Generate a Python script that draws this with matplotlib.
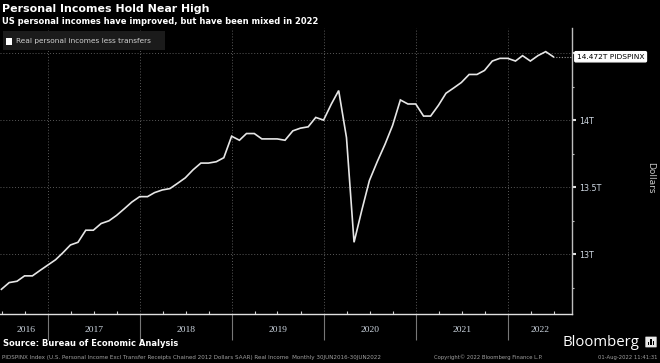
import matplotlib
matplotlib.use("Agg")
import matplotlib.pyplot as plt
import matplotlib.dates as mdates
import matplotlib.transforms as mtransforms
from matplotlib.patches import Rectangle, FancyBboxPatch
import pandas as pd
import numpy as np

# ---------------- data ----------------
start_month = "2016-06-30"
values = [
    # 2016 Jun-Dec
    12.74, 12.79, 12.80, 12.84, 12.84, 12.88, 12.92,
    # 2017
    12.96, 13.01, 13.07, 13.09, 13.18, 13.18, 13.23, 13.25, 13.29, 13.34, 13.39, 13.43,
    # 2018
    13.43, 13.46, 13.48, 13.49, 13.53, 13.57, 13.63, 13.68, 13.68, 13.69, 13.72, 13.88,
    # 2019
    13.85, 13.90, 13.90, 13.86, 13.86, 13.86, 13.85, 13.92, 13.94, 13.95, 14.02, 14.00,
    # 2020
    14.12, 14.22, 13.87, 13.09, 13.33, 13.55, 13.69, 13.82, 13.96, 14.15, 14.12, 14.12,
    # 2021
    14.03, 14.03, 14.11, 14.20, 14.24, 14.28, 14.34, 14.34, 14.37, 14.44, 14.46, 14.46,
    # 2022 Jan-Jun
    14.44, 14.48, 14.44, 14.48, 14.51, 14.472,
]
dates = pd.date_range(start_month, periods=len(values), freq="ME")
years = [2016, 2017, 2018, 2019, 2020, 2021, 2022]
ytick_vals = [13.0, 13.5, 14.0, 14.5]
ytick_labels = ["13T", "13.5T", "14T", ""]
last_label = "14.472T PIDSPINX"
legend_label = "Real personal incomes less transfers"
title = "Personal Incomes Hold Near High"
subtitle = "US personal incomes have improved, but have been mixed in 2022"
source = "Source: Bureau of Economic Analysis"
footer_left = ("PIDSPINX Index (U.S. Personal Income Excl Transfer Receipts Chained 2012 "
               "Dollars SAAR) Real Income  Monthly 30JUN2016-30JUN2022")
footer_mid = "Copyright\u00a9 2022 Bloomberg Finance L.P."
footer_right = "01-Aug-2022 11:41:31"

# ---------------- figure ----------------
W, H = 660, 363
fig = plt.figure(figsize=(W / 100, H / 100), dpi=100, facecolor="black")

def fx(px):
    return px / W

def fy(py):
    return 1 - py / H

ax_left, ax_right, ax_top, ax_bottom = 0, 572, 28, 314
ax = fig.add_axes([fx(ax_left), fy(ax_bottom), fx(ax_right - ax_left), (ax_bottom - ax_top) / H])
ax.set_facecolor("black")

ax.plot(dates, values, color="#e6e6e6", lw=1.2, solid_joinstyle="miter", zorder=3)

# x limits: 2017-01-01 at px 48, 92 px per year
d0 = mdates.date2num(pd.Timestamp("2017-01-01"))
ppd = 92 / 365.25
ax.set_xlim(d0 - (48 - ax_left) / ppd, d0 + (ax_right - 48) / ppd)
ax.set_ylim(12.556, 14.686)

# spines
for s in ["top", "left"]:
    ax.spines[s].set_visible(False)
ax.spines["right"].set_color("#bdbdbd")
ax.spines["right"].set_linewidth(1.0)
ax.spines["bottom"].set_color("#e0e0e0")
ax.spines["bottom"].set_linewidth(1.0)

# y axis on right
ax.yaxis.tick_right()
ax.set_yticks(ytick_vals)
ax.set_yticklabels(ytick_labels)
ax.set_yticks([12.75, 13.25, 13.75, 14.25], minor=True)
ax.tick_params(axis="y", which="major", colors="#e0e0e0", labelcolor="#cfd8e3",
               length=3, width=1.5, direction="out", labelsize=5.8, pad=2)
ax.tick_params(axis="y", which="minor", colors="#bdbdbd", length=1.5, width=0.8,
               direction="out")

# x axis ticks: year separators extend downward, quarterly minor ticks point up
year_starts = [pd.Timestamp(f"{y}-01-01") for y in years[1:]]
ax.set_xticks(year_starts)
ax.set_xticklabels([])
ax.xaxis.set_minor_locator(mdates.MonthLocator(bymonth=[4, 7, 10]))
ax.tick_params(axis="x", which="major", colors="#777777", length=19, width=0.8,
               direction="out")
ax.tick_params(axis="x", which="minor", colors="#d0d0d0", length=2.2, width=0.8,
               direction="in")

# grid
ax.grid(True, which="major", color="#5a5a5a", linestyle=(0, (1, 2)), lw=0.7)

# year labels
trans = mtransforms.blended_transform_factory(ax.transData, fig.transFigure)
xmin, xmax = ax.get_xlim()
for y in years:
    a = max(mdates.date2num(pd.Timestamp(f"{y}-01-01")), xmin)
    b = min(mdates.date2num(pd.Timestamp(f"{y + 1}-01-01")), xmax)
    ax.text((a + b) / 2 + (8 if y == years[0] else 0), fy(330), str(y), transform=trans,
            ha="center", va="center", color="#cfd8e3", fontsize=6.8,
            family="Liberation Serif")

# dotted line to the last value and value box
ax.hlines(values[-1], dates[-1], xmax, colors="#9a9a9a", linestyles=(0, (1, 1.5)),
          lw=0.8, zorder=2)
ax.annotate(last_label, xy=(1.0, values[-1]), xycoords=("axes fraction", "data"),
            xytext=(3.5, 0), textcoords="offset points", ha="left", va="center",
            fontsize=5.4, color="black", annotation_clip=False,
            bbox=dict(boxstyle="round,pad=0.28,rounding_size=0.15", fc="white",
                      ec="white"))

# Dollars label
fig.text(fx(651), fy(178), "Dollars", rotation=270, ha="center", va="center",
         color="#c8c8c8", fontsize=6.5)

# titles
fig.text(fx(2), fy(9), title, ha="left", va="center", color="white",
         fontsize=7.9, fontweight="bold")
fig.text(fx(2), fy(21), subtitle, ha="left", va="center", color="white",
         fontsize=6.05, fontweight="bold")

# legend box
fig.patches.append(Rectangle((fx(3), fy(50)), fx(162), (50 - 31) / H,
                             transform=fig.transFigure, fc="#1b1b1b", ec="none", zorder=1))
fig.patches.append(Rectangle((fx(6), fy(44.5)), fx(6.5), 6.5 / H,
                             transform=fig.transFigure, fc="white", ec="none", zorder=2))
fig.text(fx(16), fy(41), legend_label, ha="left", va="center", color="#d0d0d0",
         fontsize=5.3, zorder=3)

# source and footer
fig.text(fx(3), fy(344), source, ha="left", va="center", color="white",
         fontsize=6.0, fontweight="bold")
fig.text(fx(2), fy(357), footer_left, ha="left", va="center", color="#a0a0a0",
         fontsize=4.1)
fig.text(fx(488), fy(357), footer_mid, ha="center", va="center", color="#a0a0a0",
         fontsize=3.8)
fig.text(fx(658), fy(357), footer_right, ha="right", va="center", color="#a0a0a0",
         fontsize=3.8)

# Bloomberg logo
fig.text(fx(562), fy(343), "Bloomberg", ha="left", va="center", color="white",
         fontsize=10.7, family="Open Sans", fontweight="medium")
fig.patches.append(FancyBboxPatch((fx(646), fy(347)), fx(10), 10 / H,
                                  boxstyle="round,pad=0.001", transform=fig.transFigure,
                                  fc="#e8e8e8", ec="none"))
for i, hgt in enumerate([3, 6, 4]):
    fig.patches.append(Rectangle((fx(648 + i * 2.4), fy(345)), fx(1.4), hgt / H,
                                 transform=fig.transFigure, fc="black", ec="none"))

fig.savefig("out.png", dpi=100, facecolor="black")
